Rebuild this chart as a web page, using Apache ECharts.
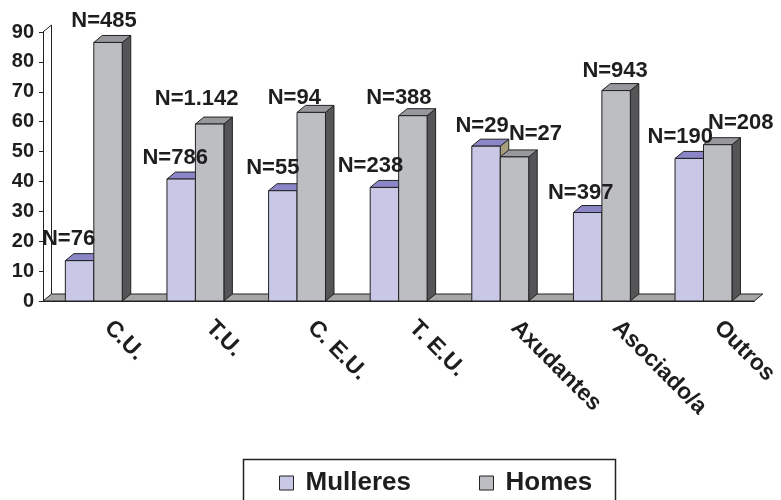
<!DOCTYPE html>
<html>
<head>
<meta charset="utf-8">
<script src="https://cdn.jsdelivr.net/npm/echarts@6/dist/echarts.min.js"></script>
<style>
  html, body { margin: 0; padding: 0; background: #ffffff; }
  #chart { width: 781px; height: 500px; }
</style>
</head>
<body>
<div id="chart"></div>
<script>
// Categories of teaching staff
const categories = ['C.U.', 'T.U.', 'C. E.U.', 'T. E.U.', 'Axudantes', 'Asociado/a', 'Outros'];

// Share (%) of each group within every category
const mulleresPct = [13.5, 40.8, 36.9, 38.0, 51.8, 29.6, 47.7];
const homesPct    = [86.5, 59.2, 63.1, 62.0, 48.2, 70.4, 52.3];

// Head counts printed above the columns
const mulleresN = [76, 786, 55, 238, 29, 397, 190];
const homesN    = [485, 1142, 94, 388, 27, 943, 208];

// Value axis ticks
const yMin = 0, yMax = 90, yStep = 10;

// Hand placement of the count labels (dx, dy in px, relative to the column top)
const mulleresLabelShift = [[-11, -1], [-6, 0], [-10, -2], [-14, 0], [-4, 1], [-7, 1], [-9, 0]];
const homesLabelShift    = [[-4, -1], [-13, -4], [-17, 7], [-14, 3], [21, -2], [-1, 1], [23, -1]];

const FONT = '"Liberation Sans", Arial, sans-serif';
const INK = '#222222';
const DX = 8.5, DY = -7;        // oblique depth of the 3D boxes
const BAR_FRAC = 0.28;          // column width as a share of the category band

const palette = {
  Mulleres: { front: '#C8C7E6', top: '#8B86C8', side: '#A69F7C' },
  Homes:    { front: '#BDBEC2', top: '#97989C', side: '#555558' }
};

function formatN(n) {
  return 'N=' + String(n).replace(/\B(?=(\d{3})+(?!\d))/g, '.');
}

function boxRenderer(colors, leftSide) {
  return function (params, api) {
    const idx = api.value(0);
    const top = api.coord([idx, api.value(1)]);
    const base = api.coord([idx, 0]);
    const bw = api.size([1, 0])[0] * BAR_FRAC;
    const x0 = leftSide ? top[0] - bw : top[0];
    const x1 = x0 + bw;
    const yt = top[1], yb = base[1];
    const edge = { stroke: INK, lineWidth: 1 };
    return {
      type: 'group',
      children: [
        { type: 'polygon', shape: { points: [[x1, yb], [x1 + DX, yb + DY], [x1 + DX, yt + DY], [x1, yt]] },
          style: Object.assign({ fill: colors.side }, edge) },
        { type: 'polygon', shape: { points: [[x0, yt], [x0 + DX, yt + DY], [x1 + DX, yt + DY], [x1, yt]] },
          style: Object.assign({ fill: colors.top }, edge) },
        { type: 'rect', shape: { x: x0, y: yt, width: bw, height: yb - yt },
          style: Object.assign({ fill: colors.front }, edge) }
      ]
    };
  };
}

function labelRenderer(counts, shifts, leftSide) {
  return function (params, api) {
    const idx = api.value(0);
    const top = api.coord([idx, api.value(1)]);
    const bw = api.size([1, 0])[0] * BAR_FRAC;
    const cx = leftSide ? top[0] - bw / 2 : top[0] + bw / 2;
    const s = shifts[idx];
    return {
      type: 'text',
      x: cx + s[0],
      y: top[1] - 21 + s[1],
      style: {
        text: formatN(counts[idx]),
        font: 'bold 22px ' + FONT,
        fill: '#1e1e1e',
        align: 'center',
        verticalAlign: 'middle'
      }
    };
  };
}

function floorRenderer(params) {
  const cs = params.coordSys;
  const xl = cs.x, xr = cs.x + cs.width, yb = cs.y + cs.height, yt = cs.y;
  return {
    type: 'group',
    children: [
      { type: 'polygon', shape: { points: [[xl, yb], [xr, yb], [xr + DX, yb + DY], [xl + DX, yb + DY]] },
        style: { fill: '#A6A6A6', stroke: INK, lineWidth: 1 } },
      { type: 'polyline', shape: { points: [[xl, yt], [xl + DX, yt + DY], [xl + DX, yb + DY]] },
        style: { fill: null, stroke: INK, lineWidth: 1 } }
    ]
  };
}

const pairs = (vals) => vals.map((v, i) => [i, v]);

const chart = echarts.init(document.getElementById('chart'), null, { renderer: 'canvas' });

chart.setOption({
  animation: false,
  backgroundColor: '#ffffff',
  grid: { left: 43, right: 24, top: 32, bottom: 199 },
  xAxis: {
    type: 'category',
    data: categories,
    boundaryGap: true,
    axisLine: { lineStyle: { color: INK, width: 1 } },
    axisTick: { length: 5, lineStyle: { color: INK } },
    axisLabel: {
      interval: 0,
      rotate: -45,
      margin: 9,
      padding: [0, 0, 0, 20],
      fontSize: 23,
      fontWeight: 'bold',
      fontFamily: FONT,
      color: '#1e1e1e'
    }
  },
  yAxis: {
    type: 'value',
    min: yMin,
    max: yMax,
    interval: yStep,
    axisLine: { show: true, lineStyle: { color: INK, width: 1 } },
    axisTick: { show: true, length: 4, lineStyle: { color: INK } },
    splitLine: { show: false },
    axisLabel: { margin: 9, fontSize: 20, fontWeight: 'bold', fontFamily: FONT, color: '#1e1e1e' }
  },
  legend: {
    left: 279,
    top: 470,
    padding: 0,
    itemWidth: 14,
    itemHeight: 14,
    itemGap: 68,
    icon: 'rect',
    itemStyle: { borderColor: INK, borderWidth: 1 },
    textStyle: { fontSize: 26, fontWeight: 'bold', fontFamily: FONT, color: '#1e1e1e', padding: [0, 0, 0, 7] },
    data: ['Mulleres', 'Homes']
  },
  graphic: [
    { type: 'rect', shape: { x: 243.5, y: 459.5, width: 372, height: 60 },
      style: { fill: 'none', stroke: INK, lineWidth: 1.5 }, silent: true }
  ],
  series: [
    { type: 'custom', name: 'floor', silent: true, z: 1, renderItem: floorRenderer, data: [[0, 0]] },
    { type: 'custom', name: 'Mulleres', silent: true, z: 2, itemStyle: { color: palette.Mulleres.front },
      renderItem: boxRenderer(palette.Mulleres, true), data: pairs(mulleresPct) },
    { type: 'custom', name: 'Homes', silent: true, z: 3, itemStyle: { color: palette.Homes.front },
      renderItem: boxRenderer(palette.Homes, false), data: pairs(homesPct) },
    { type: 'custom', name: 'Mulleres N', silent: true, z: 5,
      renderItem: labelRenderer(mulleresN, mulleresLabelShift, true), data: pairs(mulleresPct) },
    { type: 'custom', name: 'Homes N', silent: true, z: 5,
      renderItem: labelRenderer(homesN, homesLabelShift, false), data: pairs(homesPct) }
  ]
});
</script>
</body>
</html>
